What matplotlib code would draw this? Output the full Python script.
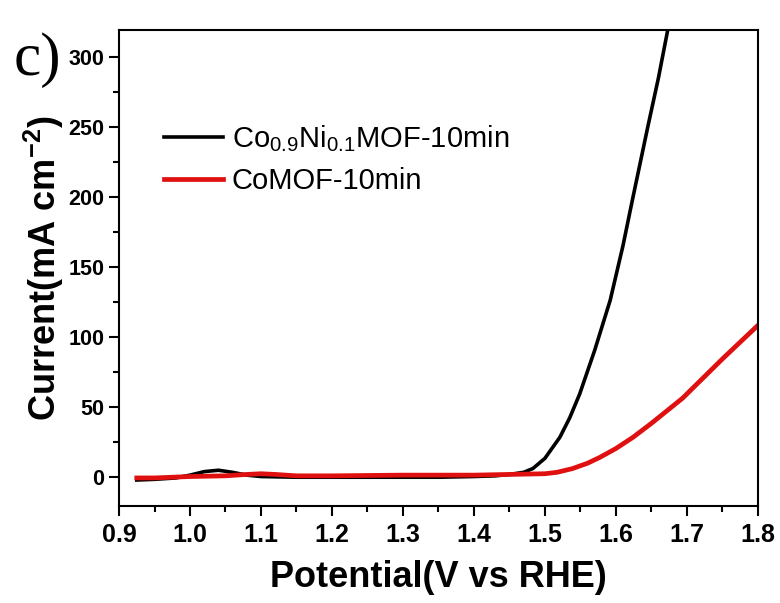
import matplotlib.pyplot as plt
from matplotlib.ticker import MultipleLocator

plt.rcParams['font.family'] = ['Liberation Sans', 'DejaVu Sans']
plt.rcParams['mathtext.default'] = 'regular'

# Co0.9Ni0.1MOF-10min
v_coni = [0.925, 0.95, 0.98, 1.0, 1.02, 1.04, 1.06, 1.08, 1.1, 1.15, 1.2, 1.25, 1.3, 1.35,
          1.4, 1.43, 1.45, 1.47, 1.483, 1.5, 1.521, 1.535, 1.549, 1.57, 1.592, 1.61,
          1.623, 1.645, 1.66, 1.673]
i_coni = [-2.5, -2, -1, 1, 3.5, 4.5, 3, 1, 0, -0.5, -0.5, -0.5, -0.5, -0.5,
          0, 0.5, 1.5, 3, 5.7, 13, 28, 42, 59, 90, 126, 165,
          197, 250, 285, 319]

# CoMOF-10min
v_como = [0.925, 0.95, 1.0, 1.05, 1.08, 1.1, 1.12, 1.15, 1.2, 1.3, 1.4, 1.45, 1.5,
          1.517, 1.539, 1.56, 1.577, 1.6, 1.624, 1.65, 1.694, 1.72, 1.75, 1.775, 1.8]
i_como = [-1, -1, 0, 0.5, 1.5, 2, 1.5, 0.5, 0.5, 1, 1, 1.5, 2,
          3, 5.7, 9.5, 13.6, 20, 28, 38, 56, 69, 84, 96, 108]

fig = plt.figure(figsize=(7.8, 6.03), dpi=100)
ax = fig.add_axes([0.1526, 0.161, 0.819, 0.789])

ax.plot(v_coni, i_coni, color='black', lw=2.6,
        label='Co$_{0.9}$Ni$_{0.1}$MOF-10min')
ax.plot(v_como, i_como, color='#e01010', lw=3.4, label='CoMOF-10min')

ax.set_xlim(0.9, 1.8)
ax.set_ylim(-21, 319)
ax.xaxis.set_major_locator(MultipleLocator(0.1))
ax.xaxis.set_minor_locator(MultipleLocator(0.05))
ax.yaxis.set_major_locator(MultipleLocator(50))
ax.yaxis.set_minor_locator(MultipleLocator(25))
ax.set_xticks([0.9, 1.0, 1.1, 1.2, 1.3, 1.4, 1.5, 1.6, 1.7, 1.8])
ax.set_xticklabels(['0.9', '1.0', '1.1', '1.2', '1.3', '1.4', '1.5', '1.6', '1.7', '1.8'])

for s in ax.spines.values():
    s.set_linewidth(1.5)
ax.tick_params(which='major', length=7, width=1.5)
ax.tick_params(which='minor', length=4, width=1.5)
ax.tick_params(axis='x', labelsize=18, pad=5)
ax.tick_params(axis='y', labelsize=15.5)
for lab in ax.get_xticklabels() + ax.get_yticklabels():
    lab.set_fontweight('bold')

ax.set_xlabel('Potential(V vs RHE)', fontsize=26, fontweight='bold', labelpad=10)
ax.set_ylabel('Current(mA cm$^{-2}$)', fontsize=26, fontweight='bold', labelpad=2)

ax.legend(loc='upper left', bbox_to_anchor=(0.03, 0.86), frameon=False,
          fontsize=21, handlelength=2.0, handletextpad=0.3, labelspacing=0.45)

fig.text(0.018, 0.875, 'c)', fontsize=44, family='Liberation Serif')

fig.savefig('out.png', dpi=100)
